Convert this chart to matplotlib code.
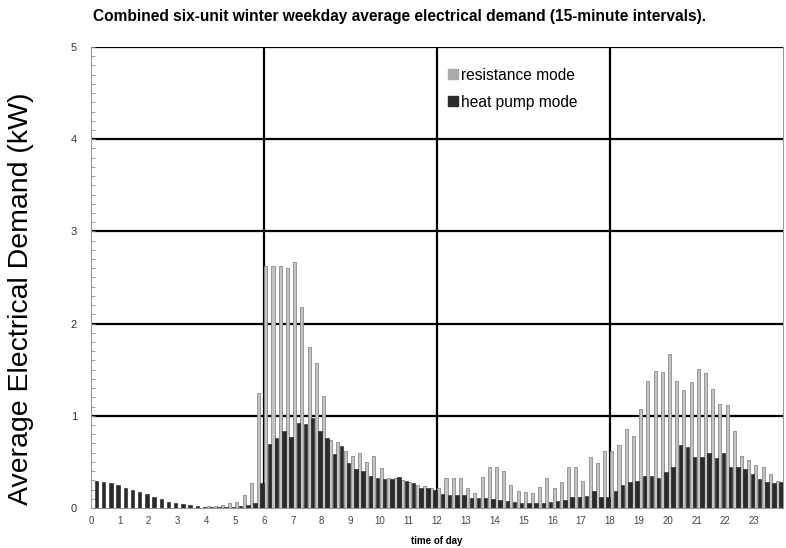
import numpy as np
import matplotlib
matplotlib.use("Agg")
import matplotlib.pyplot as plt
from matplotlib.lines import Line2D
from matplotlib.ticker import MultipleLocator

plt.rcParams['font.family'] = ['Liberation Sans', 'DejaVu Sans']

# 15-minute slots, 96 per day
slots = np.arange(96)
hours = list(range(24))

# resistance mode (kW)
resistance = [
    0.0, 0.0, 0.0, 0.0, 0.0, 0.0, 0.0, 0.0, 0.0, 0.0, 0.0, 0.0, 0.0, 0.0, 0.0, 0.0,
    0.02, 0.02, 0.03, 0.05, 0.07, 0.14, 0.27, 1.25,
    2.63, 2.63, 2.62, 2.60, 2.67, 2.18, 1.75, 1.57, 1.22,
    0.74, 0.72, 0.62, 0.56, 0.60, 0.50, 0.56, 0.43, 0.33, 0.32, 0.30, 0.28, 0.25, 0.24, 0.22,
    0.22, 0.33, 0.32, 0.33, 0.22, 0.16, 0.34, 0.45, 0.44, 0.40, 0.25, 0.18, 0.17, 0.16,
    0.23, 0.33, 0.22, 0.28, 0.45, 0.44, 0.29, 0.55, 0.49, 0.62, 0.62,
    0.68, 0.86, 0.78, 1.07, 1.38, 1.49, 1.48, 1.67, 1.38, 1.28, 1.37, 1.51, 1.46, 1.29,
    1.13, 1.12, 0.84, 0.56, 0.52, 0.47, 0.44, 0.37, 0.29,
]

# heat pump mode (kW)
heat_pump = [
    0.29, 0.28, 0.27, 0.25, 0.22, 0.20, 0.17, 0.15, 0.12, 0.10, 0.07, 0.05, 0.04, 0.03, 0.02, 0.01,
    0.01, 0.01, 0.01, 0.01, 0.02, 0.03, 0.05, 0.27,
    0.69, 0.76, 0.84, 0.77, 0.92, 0.91, 0.98, 0.84, 0.76,
    0.59, 0.67, 0.49, 0.42, 0.40, 0.35, 0.33, 0.31, 0.31, 0.34, 0.29, 0.27, 0.22, 0.22, 0.20,
    0.15, 0.14, 0.14, 0.14, 0.11, 0.11, 0.11, 0.10, 0.09, 0.08, 0.06, 0.05, 0.05, 0.05,
    0.05, 0.06, 0.08, 0.09, 0.12, 0.12, 0.13, 0.18, 0.12, 0.12, 0.18,
    0.25, 0.28, 0.29, 0.35, 0.35, 0.32, 0.39, 0.45, 0.68, 0.66, 0.55, 0.55, 0.60, 0.54,
    0.60, 0.44, 0.44, 0.42, 0.37, 0.31, 0.28, 0.27, 0.28,
]

fig = plt.figure(figsize=(7.86, 5.48), dpi=100)
ax = fig.add_axes([91 / 786, 1 - 508 / 548, 692 / 786, 461 / 548])

t = slots / 4.0
ax.bar(t + 0.0625, resistance, width=0.105, color='#c4c4c4', edgecolor='#8a8a8a',
       linewidth=0.6, zorder=3)
ax.bar(t + 0.1875, heat_pump, width=0.12, color='#2b2b2b', edgecolor='#1a1a1a',
       linewidth=0.4, zorder=3)

# heavy grid lines
for y in range(1, 6):
    ax.axhline(y, color='black', lw=1.6, zorder=1)
for x in (6, 12, 18):
    ax.axvline(x, color='black', lw=1.6, zorder=1)

ax.set_xlim(0, 24)
ax.set_ylim(0, 5)
ax.set_xticks(hours)
ax.set_xticklabels([str(h) for h in hours], fontsize=7, color='#444444')
ax.set_yticks(range(6))
ax.set_yticklabels([str(v) for v in range(6)], fontsize=8, color='#333333')
ax.yaxis.set_minor_locator(MultipleLocator(0.1))
ax.tick_params(axis='y', which='both', direction='in', length=3, width=0.6, color='#888888', pad=10)
ax.tick_params(axis='x', length=0, pad=6)

for side in ('left', 'right', 'bottom'):
    ax.spines[side].set_color('#999999')
    ax.spines[side].set_linewidth(0.8)
ax.spines['top'].set_visible(False)

ax.set_xlabel('time of day', fontsize=7, fontweight='bold', labelpad=7)
fig.text(0.027, (1 - 299 / 548), 'Average Electrical Demand (kW)', rotation=90,
         fontsize=20.5, ha='center', va='center')
fig.text(93 / 786, 1 - 17 / 548,
         'Combined six-unit winter weekday average electrical demand (15-minute intervals).',
         fontsize=11.2, fontweight='bold', ha='left', va='center')

handles = [
    Line2D([], [], marker='s', linestyle='none', markersize=7, color='#aaaaaa'),
    Line2D([], [], marker='s', linestyle='none', markersize=7, color='#2b2b2b'),
]
leg = ax.legend(handles, ['resistance mode', 'heat pump mode'], loc='upper left',
                bbox_to_anchor=(0.497, 0.985), frameon=False, fontsize=11.2,
                handlelength=0.5, handletextpad=0.25, labelspacing=0.75)
leg.set_zorder(5)

fig.savefig('out.png', dpi=100, facecolor='white')
